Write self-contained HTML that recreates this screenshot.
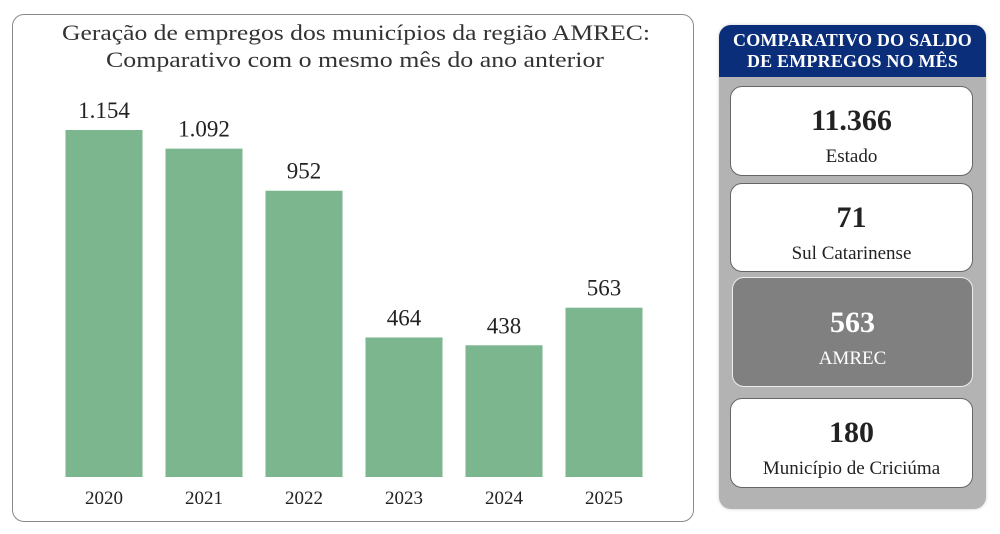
<!DOCTYPE html>
<html><head><meta charset="utf-8"><style>
body{margin:0;width:1000px;height:534px;background:#fff;font-family:"Liberation Serif",serif;position:relative;overflow:hidden}
#left{position:absolute;left:12px;top:14px;width:682px;height:508px;border:1.5px solid #8a8a8a;border-radius:12px;box-sizing:border-box}
#right{position:absolute;left:719px;top:25px;width:267px;height:484px;background:#b3b3b3;border-radius:12px;overflow:hidden;box-shadow:0 0 3px #ccc}
#hdr{height:52px;background:#0b2e7a;color:#fff;font-weight:bold;font-size:18px;text-align:center;line-height:21px;padding-top:5px;box-sizing:border-box;letter-spacing:0.2px}
.card{position:absolute;left:11px;width:243px;background:#fff;border:1.5px solid #666;border-radius:12px;box-sizing:border-box;text-align:center}
.card .v{font-weight:bold;font-size:30px;color:#222;margin-top:17px}
.card .l{font-size:19px;color:#222;margin-top:8px}
</style></head><body>
<div id="left"></div>
<svg id="chart" width="700" height="534" style="position:absolute;left:0;top:0">
<text x="62" y="40" textLength="588" lengthAdjust="spacingAndGlyphs" font-size="22" fill="#333" font-family="Liberation Serif">Geração de empregos dos municípios da região AMREC:</text>
<text x="106" y="67" textLength="498" lengthAdjust="spacingAndGlyphs" font-size="22" fill="#333" font-family="Liberation Serif">Comparativo com o mesmo mês do ano anterior</text>
</svg>
<div id="right">
<div id="hdr">COMPARATIVO DO SALDO<br>DE EMPREGOS NO MÊS</div>
<div class="card" style="top:61px;height:90px"><div class="v">11.366</div><div class="l">Estado</div></div>
<div class="card" style="top:158px;height:89px"><div class="v">71</div><div class="l">Sul Catarinense</div></div>
<div class="card" style="top:252px;height:110px;background:#808080;border-color:#eee;left:13px;width:241px"><div class="v" style="color:#fff;margin-top:28px">563</div><div class="l" style="color:#fff">AMREC</div></div>
<div class="card" style="top:373px;height:90px"><div class="v">180</div><div class="l">Município de Criciúma</div></div>
</div>
<script>
const categories=["2020","2021","2022","2023","2024","2025"];
const values=[1154,1092,952,464,438,563];
const valueLabels=["1.154","1.092","952","464","438","563"];
const svg=document.getElementById('chart');
const NS="http://www.w3.org/2000/svg";
const base=477, scale=347/1154;
const xc=i=>104+i*100;
const y=v=>base-v*scale;
categories.forEach((c,i)=>{
 const r=document.createElementNS(NS,'rect');
 r.setAttribute('x',xc(i)-38.5);r.setAttribute('width',77);
 r.setAttribute('y',y(values[i]));r.setAttribute('height',base-y(values[i]));
 r.setAttribute('fill','#7bb68e');
 
 
 svg.appendChild(r);
 const t=document.createElementNS(NS,'text');
 t.setAttribute('x',xc(i));t.setAttribute('y',y(values[i])-12);
 t.setAttribute('text-anchor','middle');t.setAttribute('font-size','23');t.setAttribute('fill','#222');
 t.textContent=valueLabels[i];
 
 
 svg.appendChild(t);
 const a=document.createElementNS(NS,'text');
 a.setAttribute('x',xc(i));a.setAttribute('y',504);
 a.setAttribute('text-anchor','middle');a.setAttribute('font-size','19');a.setAttribute('fill','#222');
 a.textContent=c;
 
 
 svg.appendChild(a);
});
</script>
</body></html>
